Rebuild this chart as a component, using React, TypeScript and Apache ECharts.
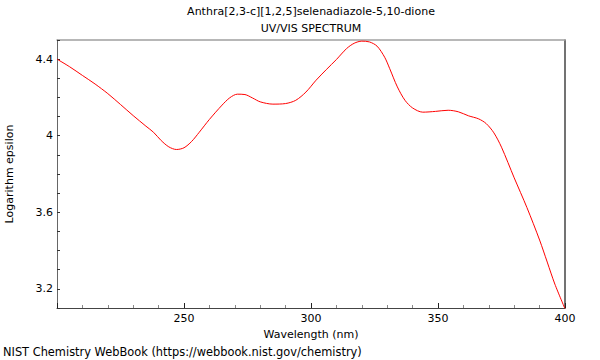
import React, { useEffect, useRef } from "react";
import * as echarts from "echarts";

const titleLine1 = "Anthra[2,3-c][1,2,5]selenadiazole-5,10-dione";
const titleLine2 = "UV/VIS SPECTRUM";
const xName = "Wavelength (nm)";
const yName = "Logarithm epsilon";
const footer = "NIST Chemistry WebBook (https://webbook.nist.gov/chemistry)";

const wavelengths = [
  200, 205, 210, 215, 220, 225, 230, 235, 238, 241, 244, 247, 250, 253, 256, 260,
  265, 268, 271, 274, 277, 280, 285, 290, 294, 298, 302, 306, 310, 314, 317, 320,
  323, 326, 329, 331, 334, 337, 340, 344, 349, 354, 358, 362, 366, 369, 372, 375,
  380, 385, 390, 393, 396, 400,
];
const logEpsilon = [
  4.4, 4.36, 4.315, 4.27, 4.22, 4.163, 4.105, 4.05, 4.018, 3.975, 3.942, 3.928, 3.937, 3.97, 4.018, 4.085,
  4.16, 4.198, 4.217, 4.215, 4.197, 4.177, 4.165, 4.168, 4.185, 4.228, 4.29, 4.345, 4.398, 4.455, 4.483, 4.494,
  4.49, 4.468, 4.41, 4.35, 4.255, 4.185, 4.145, 4.123, 4.127, 4.133, 4.125, 4.104, 4.088, 4.063, 4.015, 3.94,
  3.78, 3.625, 3.455, 3.34, 3.225, 3.096,
];
const yLabelTicks = [3.2, 3.6, 4.0, 4.4];

const FONT = "DejaVu Sans";

export default function App() {
  const ref = useRef<HTMLDivElement>(null);
  useEffect(() => {
    if (!ref.current) return;
    const chart = echarts.init(ref.current, null, { renderer: "svg" });
    const data = wavelengths.map((w, i) => [w, logEpsilon[i]]);
    chart.setOption({
      animation: false,
      backgroundColor: "#ffffff",
      textStyle: { fontFamily: FONT },
      grid: { left: 57, right: 35, top: 40, bottom: 52, outerBoundsMode: "none", containLabel: false },
      graphic: [
        {
          type: "text",
          x: 311,
          y: 6,
          style: { text: titleLine1, font: `11px '${FONT}'`, fill: "#000", textAlign: "center" },
        },
        {
          type: "text",
          x: 311,
          y: 23,
          style: { text: titleLine2, font: `11px '${FONT}'`, fill: "#000", textAlign: "center" },
        },
        {
          type: "text",
          x: 3,
          y: 346,
          style: { text: footer, font: `11.4px '${FONT}'`, fill: "#000" },
        },
      ],
      xAxis: [
        {
          type: "value",
          min: 200,
          max: 400,
          interval: 50,
          position: "bottom",
          name: xName,
          nameLocation: "middle",
          nameGap: 17,
          nameTextStyle: { fontFamily: FONT, fontSize: 11, color: "#000" },
          axisLine: { show: true, lineStyle: { color: "#444", width: 1 } },
          axisTick: { show: true, inside: true, length: 5, lineStyle: { color: "#222" } },
          minorTick: { show: true, splitNumber: 5, length: 3, lineStyle: { color: "#888" } },
          axisLabel: {
            fontFamily: FONT,
            fontSize: 11,
            color: "#000",
            margin: 5,
            formatter: (v: number) => (v === 200 ? "" : String(v)),
          },
          splitLine: { show: false },
        },
        {
          type: "value",
          min: 200,
          max: 400,
          position: "top",
          axisLine: { show: true, lineStyle: { color: "#a0a0a0", width: 1.5 } },
          axisTick: { show: false },
          axisLabel: { show: false },
          splitLine: { show: false },
        },
      ],
      yAxis: [
        {
          type: "value",
          min: 3.1,
          max: 4.5,
          interval: 0.1,
          position: "left",
          name: yName,
          nameLocation: "middle",
          nameGap: 42,
          nameTextStyle: { fontFamily: FONT, fontSize: 11, color: "#000" },
          axisLine: { show: true, lineStyle: { color: "#666", width: 1 } },
          axisTick: { show: true, inside: true, length: 3, lineStyle: { color: "#333" } },
          axisLabel: {
            fontFamily: FONT,
            fontSize: 11,
            color: "#000",
            margin: 4,
            formatter: (v: number) => {
              const r = Math.round(v * 10) / 10;
              return yLabelTicks.some((t) => Math.abs(t - r) < 1e-6) ? String(r) : "";
            },
          },
          splitLine: { show: false },
        },
        {
          type: "value",
          min: 3.1,
          max: 4.5,
          position: "right",
          axisLine: { show: true, lineStyle: { color: "#444", width: 1.5 } },
          axisTick: { show: false },
          axisLabel: { show: false },
          splitLine: { show: false },
        },
      ],
      series: [
        {
          type: "line",
          data,
          xAxisIndex: 0,
          yAxisIndex: 0,
          showSymbol: false,
          smooth: 0.3,
          lineStyle: { color: "#ff0000", width: 1 },
          clip: true,
        },
      ],
    });
    return () => chart.dispose();
  }, []);
  return (
    <div
      ref={ref}
      style={{ position: "fixed", left: 0, top: 0, width: 600, height: 360 }}
    />
  );
}
